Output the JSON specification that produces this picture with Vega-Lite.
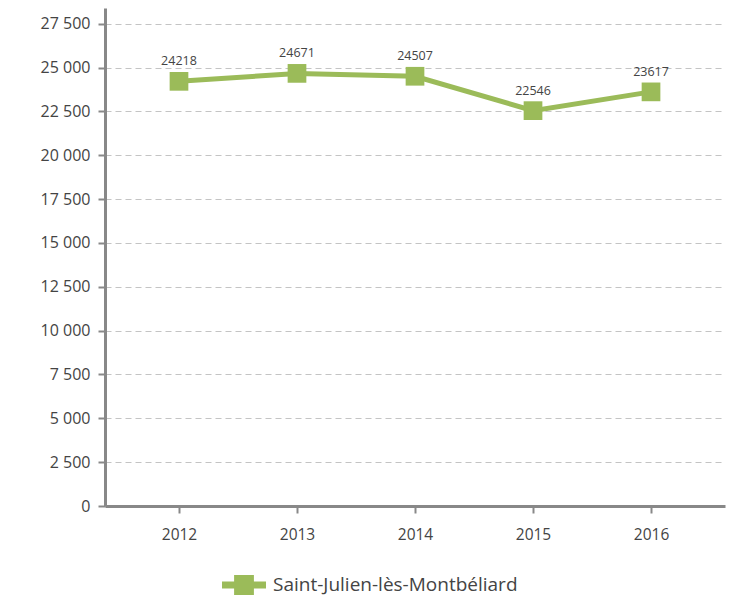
{
  "$schema": "https://vega.github.io/schema/vega-lite/v6.json",
  "autosize": "none",
  "width": 620,
  "height": 498,
  "padding": {"left": 105, "top": 8, "right": 10, "bottom": 91},
  "background": "white",
  "config": {
    "view": {"stroke": null},
    "font": "Open Sans"
  },
  "data": {
    "values": [
      {"year": "2012", "value": 24218, "series": "Saint-Julien-lès-Montbéliard"},
      {"year": "2013", "value": 24671, "series": "Saint-Julien-lès-Montbéliard"},
      {"year": "2014", "value": 24507, "series": "Saint-Julien-lès-Montbéliard"},
      {"year": "2015", "value": 22546, "series": "Saint-Julien-lès-Montbéliard"},
      {"year": "2016", "value": 23617, "series": "Saint-Julien-lès-Montbéliard"}
    ]
  },
  "encoding": {
    "x": {
      "field": "year", "type": "ordinal",
      "scale": {"type": "point", "padding": 0.627},
      "axis": {
        "title": null, "labelAngle": 0, "labelFontSize": 15.5, "labelColor": "#444",
        "labelPadding": 14, "tickSize": 7, "tickWidth": 2, "tickColor": "#888",
        "domainColor": "#888", "domainWidth": 3, "grid": false
      }
    },
    "y": {
      "field": "value", "type": "quantitative",
      "scale": {"domain": [0, 28400], "nice": false},
      "axis": {
        "title": null, "values": [0, 2500, 5000, 7500, 10000, 12500, 15000, 17500, 20000, 22500, 25000, 27500],
        "labelExpr": "replace(format(datum.value, ',d'), ',', ' ')",
        "labelFontSize": 16, "labelColor": "#444", "labelPadding": 8,
        "tickSize": 7, "tickWidth": 2, "tickColor": "#888",
        "domainColor": "#888", "domainWidth": 3,
        "grid": true, "gridDash": [6, 4], "gridColor": "#c4c4c4", "gridWidth": 1.2
      }
    }
  },
  "layer": [
    {
      "mark": {"type": "line", "strokeWidth": 5, "color": "#9BBB59"},
      "encoding": {
        "color": {
          "field": "series", "type": "nominal",
          "scale": {"range": ["#9BBB59"]},
          "legend": {
            "title": null, "orient": "none", "legendX": 117, "legendY": 555,
            "labelFontSize": 19, "labelColor": "#444", "labelFont": "Open Sans",
            "labelLimit": 400,
            "symbolType": "M-1,-0.16H1V0.16H-1Z M-0.45,-0.45H0.45V0.45H-0.45Z",
            "symbolSize": 1936, "symbolStrokeWidth": 0, "symbolFillColor": "#9BBB59",
            "labelOffset": 7
          }
        }
      }
    },
    {
      "mark": {"type": "point", "shape": "square", "size": 350, "filled": true, "color": "#9BBB59", "opacity": 1}
    },
    {
      "mark": {"type": "text", "dy": -20, "fontSize": 12.5, "color": "#444"},
      "encoding": {"text": {"field": "value", "type": "quantitative", "format": "d"}}
    }
  ]
}
